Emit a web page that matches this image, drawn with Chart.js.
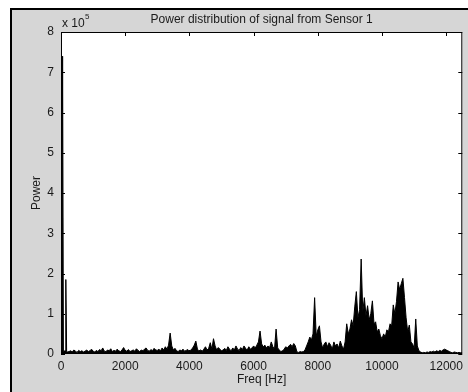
<!DOCTYPE html>
<html>
<head>
<meta charset="utf-8">
<script src="https://cdn.jsdelivr.net/npm/chart.js@4"></script>
<style>
  html, body { margin: 0; padding: 0; background: #fff; }
  canvas { display: block; }
</style>
</head>
<body>
<canvas id="spectrum" width="468" height="392"></canvas>
<script>
  'use strict';

  // Frequency bins (Hz) and power (x 10^5)
  const freqs = [
    0, 25, 50, 75, 125, 150, 175, 200,
    250, 300, 350, 400, 450, 500, 550, 600, 650, 700,
    750, 800, 850, 900, 950, 1000, 1050, 1100, 1150, 1200,
    1250, 1300, 1350, 1400, 1450, 1500, 1550, 1600, 1650, 1700,
    1750, 1800, 1850, 1900, 1950, 2000, 2050, 2100, 2150, 2200,
    2250, 2300, 2350, 2400, 2450, 2500, 2550, 2600, 2650, 2700,
    2750, 2800, 2850, 2900, 2950, 3000,
    3050, 3100, 3150, 3200, 3250, 3300, 3350, 3400, 3450, 3500,
    3550, 3600, 3650, 3700, 3750, 3800, 3850, 3900, 3950, 4000,
    4050, 4100, 4150, 4200, 4250, 4300, 4350, 4400, 4450, 4500,
    4550, 4600, 4650, 4700, 4750, 4800, 4850, 4900, 4950, 5000,
    5050, 5100, 5150, 5200, 5250, 5300, 5350, 5400, 5450, 5500,
    5550, 5600, 5650, 5700, 5750, 5800, 5850, 5900, 5950, 6000,
    6050, 6100, 6150, 6200, 6250, 6300, 6350, 6400, 6450, 6500,
    6550, 6600, 6650, 6700, 6750, 6800, 6850, 6900, 6950, 7000,
    7050, 7100, 7150, 7200, 7250, 7300, 7350, 7400, 7450, 7500,
    7550, 7600, 7650, 7700, 7750, 7800, 7850, 7900, 7950, 8000,
    8050, 8100, 8150, 8200, 8250, 8300, 8350, 8400, 8450, 8500,
    8550, 8600, 8650, 8700, 8750, 8800, 8850, 8900,
    8950, 9000, 9050, 9100, 9150, 9200, 9250, 9300, 9350, 9400, 9450,
    9500, 9550, 9600, 9650, 9700, 9750, 9800, 9850, 9900, 9950,
    10000, 10050, 10100, 10150, 10200, 10250, 10300, 10350, 10400, 10450, 10500,
    10550, 10600, 10650, 10700, 10750, 10800, 10850, 10900, 10950, 11000,
    11050, 11100, 11150, 11200, 11250, 11300, 11350, 11400, 11450, 11500,
    11550, 11600, 11650, 11700, 11750, 11800, 11850, 11900, 11950, 12000,
    12050, 12100, 12150, 12200, 12250, 12300, 12350, 12400, 12450, 12500
  ];

  const power = [
    0.04, 0.05, 7.4, 0.06, 0.08, 1.85, 0.07, 0.05,
    0.06, 0.08, 0.05, 0.1, 0.07, 0.04, 0.09, 0.06, 0.08, 0.05,
    0.07, 0.1, 0.06, 0.08, 0.12, 0.07, 0.05, 0.09, 0.06, 0.11,
    0.08, 0.15, 0.07, 0.06, 0.1, 0.08, 0.13, 0.06, 0.09, 0.07,
    0.12, 0.08, 0.06, 0.1, 0.16, 0.09, 0.07, 0.11, 0.06, 0.08,
    0.1, 0.07, 0.13, 0.09, 0.06, 0.1, 0.08, 0.12, 0.15, 0.09,
    0.07, 0.11, 0.08, 0.14, 0.1, 0.09,
    0.12, 0.08, 0.15, 0.1, 0.18, 0.12, 0.22, 0.52, 0.2, 0.1,
    0.14, 0.08, 0.06, 0.1, 0.08, 0.12, 0.07, 0.09, 0.11, 0.07,
    0.1, 0.15, 0.22, 0.32, 0.12, 0.08, 0.1, 0.07, 0.12, 0.18,
    0.1, 0.14, 0.28, 0.12, 0.38, 0.2, 0.1, 0.16, 0.12, 0.08,
    0.1, 0.14, 0.09, 0.18, 0.12, 0.08, 0.15, 0.1, 0.2, 0.12,
    0.09, 0.16, 0.11, 0.2, 0.14, 0.1, 0.18, 0.12, 0.15, 0.2,
    0.15, 0.22, 0.3, 0.57, 0.25, 0.18, 0.22, 0.15, 0.2, 0.16,
    0.3, 0.18, 0.12, 0.62, 0.15, 0.1, 0.06, 0.08, 0.12, 0.18,
    0.15, 0.2, 0.24, 0.18, 0.26, 0.2, 0.05, 0.04, 0.06, 0.05,
    0.06, 0.1, 0.2, 0.3, 0.42, 0.35, 0.5, 1.4, 0.45, 0.6,
    0.7, 0.3, 0.15, 0.25, 0.3, 0.18, 0.28, 0.22, 0.12, 0.3,
    0.2, 0.25, 0.15, 0.32, 0.2, 0.12, 0.3, 0.75,
    0.5, 0.62, 0.85, 0.7, 1.17, 1.55, 0.9, 1.1, 2.36, 1.05, 1.4,
    0.95, 1.2, 0.85, 1.0, 1.32, 0.75, 0.8, 0.55, 0.62, 0.45,
    0.38, 0.5, 0.42, 0.6, 0.55, 0.75, 0.7, 1.22, 1.0, 1.3, 1.79,
    1.6, 1.75, 1.88, 1.4, 0.9, 0.55, 0.72, 0.3, 0.25, 0.15,
    0.87, 0.2, 0.08, 0.05, 0.03, 0.04, 0.03, 0.05, 0.04, 0.06,
    0.05, 0.07, 0.05, 0.08, 0.06, 0.09, 0.07, 0.1, 0.12, 0.1,
    0.08, 0.06, 0.04, 0.03, 0.05, 0.04, 0.03, 0.04, 0.03, 0.03
  ];

  const xTicks = [0, 2000, 4000, 6000, 8000, 10000, 12000];
  const yTicks = [0, 1, 2, 3, 4, 5, 6, 7, 8];

  const FONT = '"Liberation Sans", Arial, Helvetica, sans-serif';
  const TEXT = '#1a1a1a';
  const FIG_BG = '#d6d6d6';

  const figurePlugin = {
    id: 'figure',
    beforeDraw: function (chart) {
      const ctx = chart.ctx;
      const area = chart.chartArea;
      ctx.save();
      ctx.fillStyle = '#fff';
      ctx.fillRect(0, 0, chart.width, chart.height);
      ctx.fillStyle = '#000';
      ctx.fillRect(10, 8, chart.width - 10, chart.height - 8);
      ctx.fillStyle = FIG_BG;
      ctx.fillRect(12, 10, chart.width - 12, chart.height - 10);
      ctx.fillStyle = '#fff';
      ctx.fillRect(area.left, area.top, area.right - area.left, area.bottom - area.top);
      ctx.restore();
    },
    afterDraw: function (chart) {
      const ctx = chart.ctx;
      const area = chart.chartArea;
      const xs = chart.scales.x;
      const ys = chart.scales.y;
      ctx.save();

      // box
      ctx.strokeStyle = '#000';
      ctx.lineWidth = 1;
      ctx.strokeRect(area.left + 0.5, area.top + 0.5,
        area.right - area.left - 1, area.bottom - area.top - 1);

      // inward ticks on all sides
      ctx.beginPath();
      xTicks.forEach(function (v) {
        const px = Math.round(xs.getPixelForValue(v)) + 0.5;
        ctx.moveTo(px, area.bottom);
        ctx.lineTo(px, area.bottom - 4);
        ctx.moveTo(px, area.top);
        ctx.lineTo(px, area.top + 4);
      });
      yTicks.forEach(function (v) {
        const py = Math.round(ys.getPixelForValue(v)) + 0.5;
        ctx.moveTo(area.left, py);
        ctx.lineTo(area.left + 4, py);
        ctx.moveTo(area.right, py);
        ctx.lineTo(area.right - 4, py);
      });
      ctx.stroke();

      ctx.fillStyle = TEXT;
      ctx.textBaseline = 'middle';
      ctx.textAlign = 'center';
      ctx.font = '12px ' + FONT;
      const cx = (area.left + area.right) / 2;
      ctx.fillText('Power distribution of signal from Sensor 1', cx, 20);
      ctx.fillText('Freq [Hz]', cx, 380);

      // exponent label
      ctx.textAlign = 'left';
      ctx.font = '12px ' + FONT;
      ctx.fillText('x 10', area.left + 1, 24);
      ctx.font = '8px ' + FONT;
      ctx.fillText('5', area.left + 24, 17);

      // y axis title
      ctx.font = '12px ' + FONT;
      ctx.textAlign = 'center';
      ctx.translate(37, (area.top + area.bottom) / 2);
      ctx.rotate(-Math.PI / 2);
      ctx.fillText('Power', 0, 0);
      ctx.restore();
    }
  };

  function buildTicks(list) {
    return function (scale) {
      scale.ticks = list.map(function (v) {
        return { value: v };
      });
    };
  }

  function plainLabel(value) {
    return String(value);
  }

  new Chart(document.getElementById('spectrum'), {
    type: 'line',
    data: {
      datasets: [
        {
          data: freqs.map(function (f, i) {
            return { x: f, y: power[i] };
          }),
          borderColor: '#000',
          backgroundColor: '#000',
          borderWidth: 1,
          pointRadius: 0,
          tension: 0,
          fill: 'origin',
        },
      ],
    },
    options: {
      responsive: false,
      animation: false,
      devicePixelRatio: 1,
      layout: { padding: { left: 0, top: 32, right: 2, bottom: 0 } },
      plugins: {
        legend: { display: false },
        tooltip: { enabled: false },
      },
      scales: {
        x: {
          type: 'linear',
          min: 0,
          max: 12500,
          afterBuildTicks: buildTicks(xTicks),
          afterFit: function (scale) { scale.height = 38; },
          grid: { display: false, drawTicks: false },
          border: { display: false },
          ticks: {
            padding: 5,
            maxRotation: 0,
            autoSkip: false,
            color: TEXT,
            font: { family: FONT, size: 12 },
            callback: plainLabel,
          },
        },
        y: {
          min: 0,
          max: 8,
          afterBuildTicks: buildTicks(yTicks),
          afterFit: function (scale) { scale.width = 61; },
          grid: { display: false, drawTicks: false },
          border: { display: false },
          ticks: {
            padding: 7,
            autoSkip: false,
            color: TEXT,
            font: { family: FONT, size: 12 },
            callback: plainLabel,
          },
        },
      },
    },
    plugins: [figurePlugin],
  });
</script>
</body>
</html>
